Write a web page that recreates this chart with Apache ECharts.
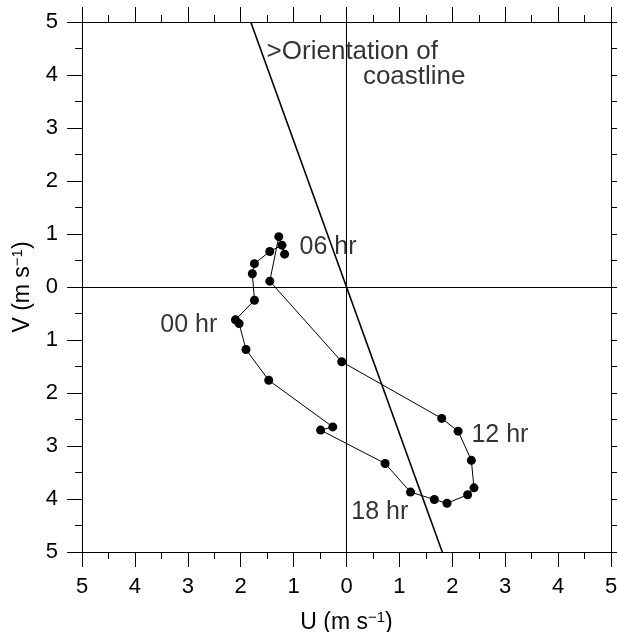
<!DOCTYPE html>
<html>
<head>
<meta charset="utf-8">
<script src="https://cdn.jsdelivr.net/npm/echarts@6/dist/echarts.min.js"></script>
<style>
  html, body { margin: 0; padding: 0; background: #fff; }
  #chart { width: 617px; height: 632px; }
</style>
</head>
<body>
<div id="chart"></div>
<script>
// hourly wind hodograph (u, v) in m/s
var hours = ['00','01','02','03','04','05','06','07','08','09','10','11',
             '12','13','14','15','16','17','18','19','20','21','22','23'];
var uWind = [-2.10, -1.74, -1.78, -1.74, -1.45, -1.22, -1.17, -1.28, -1.45, -0.09, 1.80, 2.11,
              2.36,  2.41,  2.29,  1.90,  1.66,  1.21,  0.73, -0.49, -0.26, -1.47, -1.90, -2.03];
var vWind = [-0.62, -0.25,  0.25,  0.44,  0.67,  0.79,  0.62,  0.95,  0.11, -1.41, -2.48, -2.72,
             -3.27, -3.79, -3.92, -4.08, -4.01, -3.87, -3.33, -2.70, -2.64, -1.76, -1.18, -0.69];

// coastline orientation line end points (u, v)
var coastU = [-1.81, 1.81];
var coastV = [5, -5];

// annotations: text, u, v
var hourLabels = [
  ['00 hr', -2.98, -0.72],
  ['06 hr', -0.35, 0.75],
  ['12 hr', 2.90, -2.79],
  ['18 hr', 0.63, -4.25]
];
var noteLabels = [
  ['>Orientation of', -1.51, 4.43],
  ['coastline', 0.31, 3.96]
];

var font = 'Liberation Sans, Arial, Helvetica, sans-serif';

function axisBase(pos, showLabel) {
  return {
    type: 'value',
    position: pos,
    min: -5,
    max: 5,
    interval: 1,
    axisLine: { show: true, onZero: false, lineStyle: { color: '#000', width: 1 } },
    axisTick: { show: true, inside: false, length: 15, lineStyle: { color: '#000', width: 1 } },
    minorTick: { show: true, splitNumber: 2, length: 7, lineStyle: { color: '#000', width: 1 } },
    splitLine: { show: false },
    axisLabel: {
      show: showLabel,
      margin: 24,
      color: '#000',
      fontFamily: font,
      fontSize: 22,
      formatter: function (v) { return Math.abs(v); }
    }
  };
}

var nameStyle = {
  color: '#000', fontFamily: font, fontSize: 23,
  rich: { sup: { fontSize: 15, fontFamily: font, color: '#000', verticalAlign: 'top', padding: [0, 0, 11, 0] } }
};

var xBottom = axisBase('bottom', true);
xBottom.name = 'U (m s{sup|\u22121})';
xBottom.nameLocation = 'middle';
xBottom.nameGap = 58;
xBottom.nameTextStyle = nameStyle;
var xTop = axisBase('top', false);

var yLeft = axisBase('left', true);
yLeft.name = 'V (m s{sup|\u22121})';
yLeft.nameLocation = 'middle';
yLeft.nameGap = 46;
yLeft.nameRotate = 90;
yLeft.nameTextStyle = nameStyle;
var yRight = axisBase('right', false);

function textSeries(list, size) {
  return {
    type: 'scatter',
    symbolSize: 0,
    silent: true,
    data: list.map(function (l) { return { name: l[0], value: [l[1], l[2]] }; }),
    label: {
      show: true,
      position: 'inside',
      color: '#000',
      fontFamily: font,
      fontSize: size,
      formatter: function (p) { return p.name; }
    }
  };
}

var chart = echarts.init(document.getElementById('chart'), null, { renderer: 'canvas' });
var noteSeries = textSeries(noteLabels, 26);
noteSeries.label.align = 'left';

chart.setOption({
  animation: false,
  backgroundColor: '#fff',
  grid: { left: 82, right: 6, top: 22, bottom: 80, containLabel: false, outerBoundsMode: 'none' },
  xAxis: [xBottom, xTop],
  yAxis: [yLeft, yRight],
  series: [
    {
      type: 'line',
      silent: true,
      symbol: 'none',
      data: [],
      markLine: {
        silent: true,
        symbol: 'none',
        label: { show: false },
        lineStyle: { color: '#000', width: 1, type: 'solid' },
        data: [{ xAxis: 0 }, { yAxis: 0 }]
      }
    },
    {
      type: 'line',
      silent: true,
      symbol: 'none',
      lineStyle: { color: '#000', width: 1.6 },
      data: coastU.map(function (u, i) { return [u, coastV[i]]; })
    },
    {
      type: 'line',
      silent: true,
      symbol: 'circle',
      symbolSize: 9,
      itemStyle: { color: '#000' },
      lineStyle: { color: '#000', width: 1 },
      data: uWind.map(function (u, i) { return { name: hours[i], value: [u, vWind[i]] }; })
    },
    textSeries(hourLabels, 25),
    noteSeries
  ]
});
</script>
</body>
</html>
